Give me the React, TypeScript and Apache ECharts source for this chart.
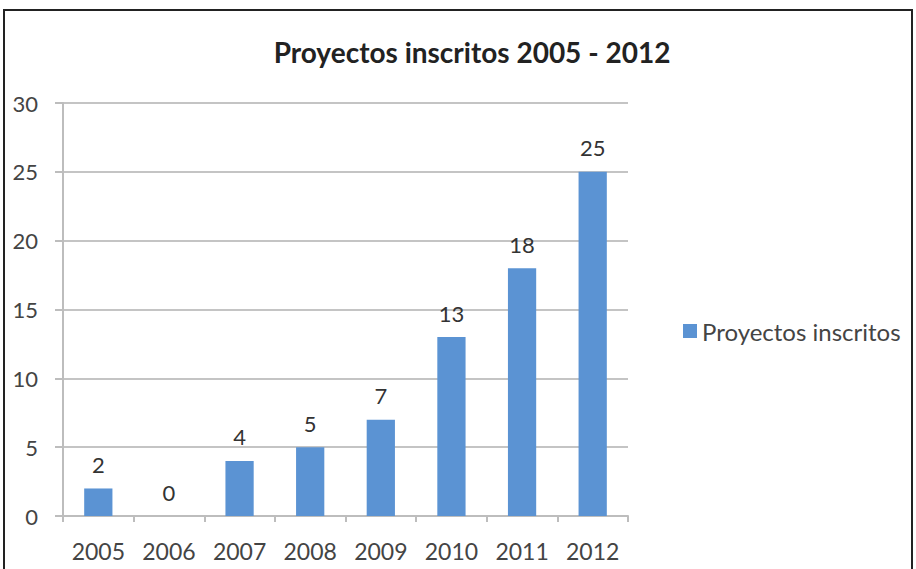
import React, { useEffect, useRef } from "react";
import * as echarts from "echarts";

const categories = ["2005", "2006", "2007", "2008", "2009", "2010", "2011", "2012"];
const values = [2, 0, 4, 5, 7, 13, 18, 25];
const seriesName = "Proyectos inscritos";
const titleText = "Proyectos inscritos 2005 - 2012";

export default function App() {
  const ref = useRef<HTMLDivElement>(null);
  useEffect(() => {
    document.body.style.margin = "0";
    const chart = echarts.init(ref.current!, null, { renderer: "svg" });
    const font = "Lato, 'Open Sans', sans-serif";
    chart.setOption({
      animation: false,
      backgroundColor: "#ffffff",
      title: {
        text: titleText,
        left: 467,
        textAlign: "center",
        top: 33,
        textStyle: { fontFamily: font, fontSize: 28, fontWeight: "bold", color: "#222" },
      },
      legend: {
        data: [seriesName],
        left: 678,
        top: 314,
        itemWidth: 14,
        itemHeight: 14,
        itemGap: 6,
        icon: "rect",
        textStyle: { fontFamily: font, fontSize: 24, color: "#444" },
      },
      grid: { left: 63, right: 288, top: 103, bottom: 53, containLabel: false },
      xAxis: {
        type: "category",
        data: categories,
        axisLine: { lineStyle: { color: "#bdbdbd", width: 2 } },
        axisTick: { show: true, length: 6, lineStyle: { color: "#bdbdbd", width: 2 } },
        axisLabel: { fontFamily: font, fontSize: 23, color: "#444", margin: 23 },
      },
      yAxis: {
        type: "value",
        min: 0,
        max: 30,
        interval: 5,
        axisLine: { show: true, lineStyle: { color: "#bdbdbd", width: 2 } },
        axisTick: { show: true, length: 8, lineStyle: { color: "#bdbdbd", width: 2 } },
        splitLine: { lineStyle: { color: "#c4c4c4", width: 2 } },
        axisLabel: { fontFamily: font, fontSize: 22, color: "#444", margin: 25 },
      },
      series: [
        {
          name: seriesName,
          type: "bar",
          data: values,
          barWidth: "40%",
          itemStyle: { color: "#5b93d3" },
          label: {
            show: true,
            position: "top",
            distance: 13,
            fontFamily: font,
            fontSize: 22,
            color: "#333",
          },
        },
      ],
      graphic: [
        {
          type: "polyline",
          shape: { points: [[4, 569], [4, 10], [912, 10], [912, 569]] },
          style: { stroke: "#222", lineWidth: 2, fill: "none" },
        },
      ],
    });
    return () => chart.dispose();
  }, []);
  return <div ref={ref} style={{ width: 916, height: 569 }} />;
}
